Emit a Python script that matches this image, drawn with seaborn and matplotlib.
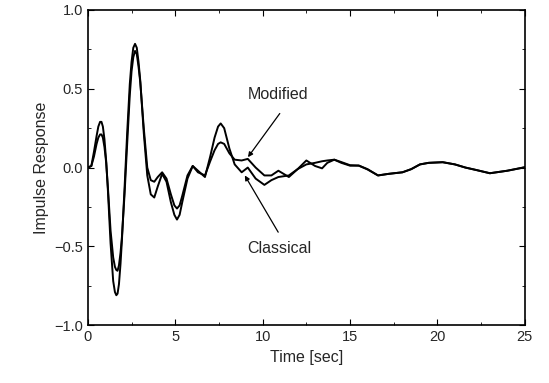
import matplotlib
matplotlib.use("Agg")
import matplotlib.pyplot as plt
from matplotlib.ticker import MultipleLocator
import pandas as pd
import seaborn as sns

# values
time_sec = [
    0.0, 0.2, 0.35, 0.5, 0.6, 0.7, 0.78, 0.86, 0.95, 1.05, 1.15, 1.3,
    1.45, 1.55, 1.63, 1.7, 1.78, 1.87, 1.95, 2.1, 2.25, 2.4, 2.5, 2.6,
    2.7, 2.8, 2.9, 3.0, 3.2, 3.4, 3.6, 3.8, 4.0, 4.25, 4.5, 4.75, 4.95,
    5.1, 5.25, 5.4, 5.7, 6.0, 6.3, 6.7, 7.0, 7.25, 7.45, 7.6, 7.8, 8.1,
    8.4, 8.8, 9.15, 9.6, 10.1, 10.5, 10.9, 11.5, 12.0, 12.5, 13.0, 13.4,
    13.7, 14.1, 14.5, 15.0, 15.5, 16.0, 16.6, 17.2, 18.0, 18.5, 19.0,
    19.5, 20.3, 21.0, 21.6, 22.2, 23.0, 24.0, 25.0,
]
classical = [
    0.0, 0.01, 0.10, 0.20, 0.26, 0.29, 0.29, 0.26, 0.18, 0.04, -0.15,
    -0.48, -0.72, -0.79, -0.81, -0.80, -0.74, -0.61, -0.46, -0.13, 0.22,
    0.53, 0.67, 0.76, 0.785, 0.76, 0.67, 0.55, 0.22, -0.05, -0.17, -0.19,
    -0.12, -0.04, -0.09, -0.22, -0.30, -0.33, -0.30, -0.22, -0.07, 0.01,
    -0.02, -0.06, 0.07, 0.19, 0.26, 0.28, 0.25, 0.12, 0.02, -0.03, 0.0,
    -0.07, -0.11, -0.08, -0.06, -0.05, -0.01, 0.02, 0.03, 0.04, 0.045,
    0.05, 0.03, 0.012, 0.013, -0.01, -0.05, -0.04, -0.03, -0.01, 0.02,
    0.03, 0.034, 0.02, 0.0, -0.015, -0.036, -0.02, 0.002,
]
modified = [
    0.0, 0.01, 0.07, 0.15, 0.19, 0.21, 0.21, 0.19, 0.13, 0.03, -0.13,
    -0.40, -0.57, -0.63, -0.65, -0.655, -0.62, -0.54, -0.44, -0.17, 0.15,
    0.46, 0.61, 0.70, 0.74, 0.72, 0.64, 0.54, 0.25, 0.0, -0.08, -0.09,
    -0.06, -0.03, -0.07, -0.17, -0.24, -0.26, -0.24, -0.18, -0.05, 0.01,
    -0.03, -0.05, 0.04, 0.11, 0.15, 0.16, 0.15, 0.09, 0.05, 0.045, 0.055,
    0.0, -0.05, -0.05, -0.02, -0.06, -0.01, 0.045, 0.01, -0.005, 0.03,
    0.05, 0.035, 0.015, 0.012, -0.012, -0.05, -0.04, -0.03, -0.01, 0.02,
    0.03, 0.034, 0.02, 0.0, -0.015, -0.036, -0.02, 0.002,
]

curves = pd.DataFrame({
    "Time": time_sec * 2,
    "Response": classical + modified,
    "Method": ["Classical"] * len(time_sec) + ["Modified"] * len(time_sec),
})

sns.set_style("ticks")
plt.rcParams["font.family"] = ["Liberation Sans", "DejaVu Sans"]

fig = plt.figure(figsize=(5.49, 3.83), dpi=100)
ax = fig.add_axes([0.160, 0.151, 0.796, 0.823])

sns.lineplot(
    data=curves,
    x="Time",
    y="Response",
    hue="Method",
    palette={"Classical": "black", "Modified": "black"},
    linewidth=1.4,
    legend=False,
    ax=ax,
)

ax.set_xlim(0, 25)
ax.set_ylim(-1.0, 1.0)
ax.xaxis.set_major_locator(MultipleLocator(5))
ax.xaxis.set_minor_locator(MultipleLocator(2.5))
ax.yaxis.set_major_locator(MultipleLocator(0.5))
ax.yaxis.set_minor_locator(MultipleLocator(0.25))
ax.set_yticklabels([f"{v:.1f}".replace("-", "\u2212") for v in ax.get_yticks()])
ax.tick_params(which="both", direction="in", top=True, right=True,
               labelsize=10.5, color="black")
ax.tick_params(which="major", length=4)
ax.tick_params(which="minor", length=2)
for spine in ax.spines.values():
    spine.set_color("black")
    spine.set_linewidth(1.2)

ax.set_xlabel("Time [sec]", fontsize=11.5)
ax.set_ylabel("Impulse Response", fontsize=11.5)

# labels and their pointer arrows
arrow_style = dict(arrowstyle="-|>", color="black", lw=0.9,
                   mutation_scale=7, shrinkA=0, shrinkB=0)
ax.text(10.87, 0.463, "Modified", ha="center", va="center", fontsize=11.5)
ax.annotate("", xy=(9.16, 0.066), xytext=(10.98, 0.343),
            arrowprops=arrow_style)
ax.text(10.93, -0.514, "Classical", ha="center", va="center", fontsize=11.5)
ax.annotate("", xy=(8.98, -0.05), xytext=(10.89, -0.41),
            arrowprops=arrow_style)

fig.savefig("out.png", dpi=100, facecolor="white")
